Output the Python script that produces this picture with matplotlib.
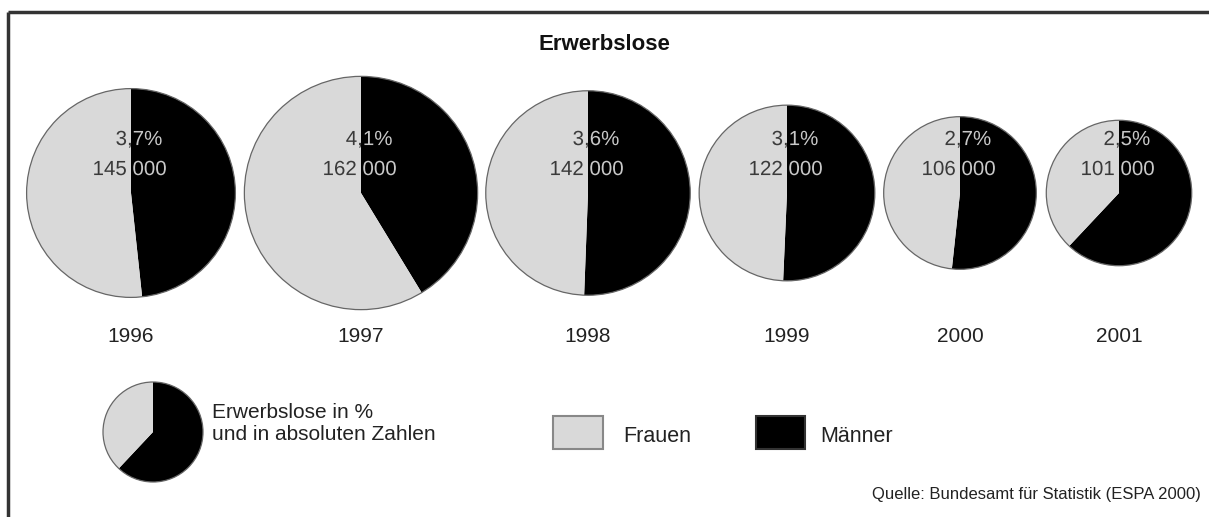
import numpy as np
import matplotlib.pyplot as plt
from matplotlib.patches import Rectangle, PathPatch
from matplotlib.textpath import TextPath
from matplotlib.font_manager import FontProperties
from matplotlib.transforms import Affine2D

plt.rcParams['font.family'] = ['Liberation Sans', 'DejaVu Sans']

# Daten
jahre = ['1996', '1997', '1998', '1999', '2000', '2001']
quote = ['3,7%', '4,1%', '3,6%', '3,1%', '2,7%', '2,5%']
absolut = [145000, 162000, 142000, 122000, 106000, 101000]
maenner_anteil = [48.3, 41.3, 50.6, 50.7, 51.7, 62.0]
legende_anteil = [62.0]

GRAU = '#d9d9d9'
W, H = 1209, 517
fp = FontProperties(family='Liberation Sans')

fig = plt.figure(figsize=(W / 100, H / 100), dpi=100)
ax = fig.add_axes([0, 0, 1, 1])


def pfad_text(s, x, y, size_px):
    # Text als Pfad, damit er sich an den Tortenstücken abschneiden lässt
    tp = TextPath((0, 0), s, size=size_px, prop=fp)
    ext = tp.get_extents()
    ref = TextPath((0, 0), '0', size=size_px, prop=fp).get_extents()
    dx = x - (ext.x0 + ext.x1) / 2
    dy = y - (ref.y0 + ref.y1) / 2
    return tp.transformed(Affine2D().translate(dx, dy))


x_mitte = [131, 361, 588, 787, 960, 1119]
y_mitte = H - 193
skala = 0.72 / 1000   # Radius in px pro Person

for xm, jahr, q, n, m in zip(x_mitte, jahre, quote, absolut, maenner_anteil):
    r = n * skala
    wedges, _ = ax.pie([m, 100 - m], colors=['black', GRAU], startangle=90,
                       counterclock=False, center=(xm, y_mitte), radius=r,
                       wedgeprops=dict(edgecolor='none'))
    ax.add_patch(plt.Circle((xm, y_mitte), r, fill=False, edgecolor='#666666', lw=0.9))
    txt_abs = f"{n:,}".replace(',', ' ')
    for t, yy, dx in [(q, H - 138, 8), (txt_abs, H - 168, -1)]:
        p = pfad_text(t, xm + dx, yy, 20.5)
        for wedge, col in [(wedges[1], '#3a3a3a'), (wedges[0], '#c8c8c8')]:
            pp = PathPatch(p, facecolor=col, edgecolor='none', zorder=4)
            ax.add_patch(pp)
            pp.set_clip_path(wedge)
    ax.text(xm, H - 337, jahr, ha='center', va='center', fontsize=15, color='#222222')

# Legende: Beispielkreis
lw_, _ = ax.pie([legende_anteil[0], 100 - legende_anteil[0]], colors=['black', GRAU],
                startangle=90, counterclock=False, center=(153, H - 432), radius=50,
                wedgeprops=dict(edgecolor='none'))
ax.add_patch(plt.Circle((153, H - 432), 50, fill=False, edgecolor='#666666', lw=0.9))
ax.text(212, H - 413, 'Erwerbslose in %', ha='left', va='center', fontsize=15, color='#222222')
ax.text(212, H - 435, 'und in absoluten Zahlen', ha='left', va='center', fontsize=15, color='#222222')

ax.add_patch(Rectangle((553, H - 449), 50, 33, facecolor=GRAU, edgecolor='#888888', lw=1.5))
ax.text(623, H - 437, 'Frauen', ha='left', va='center', fontsize=15.5, color='#222222')
ax.add_patch(Rectangle((756, H - 449), 49, 33, facecolor='black', edgecolor='#333333', lw=1.5))
ax.text(820, H - 437, 'Männer', ha='left', va='center', fontsize=15.5, color='#222222')

ax.text(W / 2, H - 45, 'Erwerbslose', ha='center', va='center', fontsize=16,
        fontweight='bold', color='#111111')
ax.text(1201, H - 495, 'Quelle: Bundesamt für Statistik (ESPA 2000)', ha='right',
        va='center', fontsize=12, color='#222222')

# Rahmen oben und links
ax.plot([7.5, W], [H - 11.5, H - 11.5], color='#333333', lw=2.5, solid_capstyle='butt')
ax.plot([7.5, 7.5], [H - 11.5, 0], color='#333333', lw=2.5, solid_capstyle='butt')

ax.set_xlim(0, W)
ax.set_ylim(0, H)
ax.set_aspect('auto')
ax.axis('off')

fig.savefig('out.png', dpi=100)
